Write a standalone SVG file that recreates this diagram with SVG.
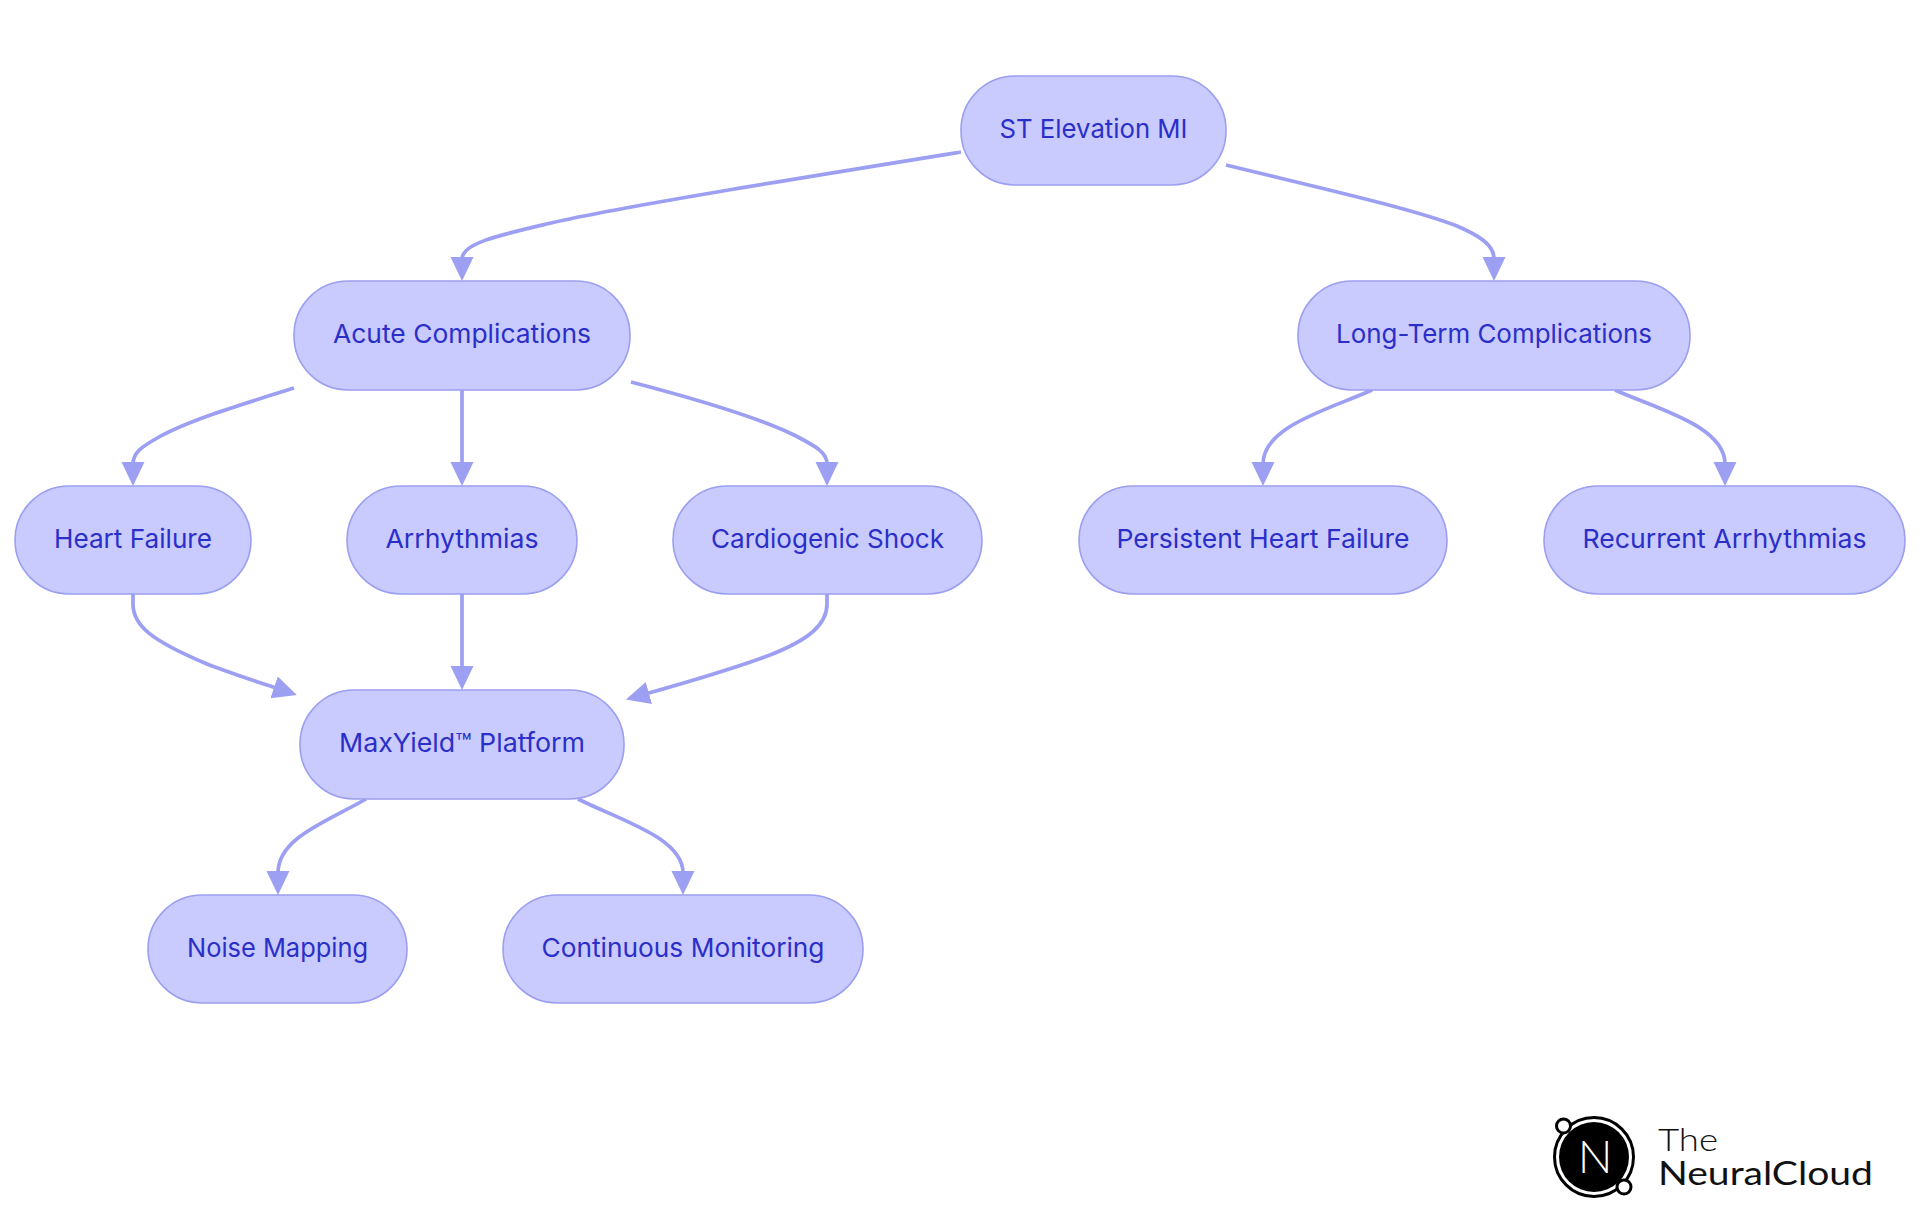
<svg xmlns="http://www.w3.org/2000/svg" width="1920" height="1215" viewBox="0 0 1920 1215">
<defs>
<style>
.n rect{fill:#c9cafd;stroke:#9c9ff0;stroke-width:1.6}
.n text{font-family:"Inter","Noto Sans",sans-serif;font-size:26px;fill:#2b2fc9;text-anchor:middle}
#edges path{fill:none;stroke:#9c9ff2;stroke-width:3.7;marker-end:url(#a)}
</style>
<marker id="a" markerUnits="userSpaceOnUse" markerWidth="26" markerHeight="24" refX="2" refY="12" orient="auto"><path d="M0,0.5L24,12L0,23.5Z" fill="#9c9ff2"/></marker>
</defs>
<rect width="1920" height="1215" fill="#fff"/>
<g id="edges">
<path d="M961,152C800,178 620,207 551,223C500,235 462,243 462,259"/>
<path d="M1226,165C1320,188 1410,208 1457,226C1480,236 1494,245 1494,259"/>
<path d="M294,388C240,405 190,420 159,437C143,446 133,452 133,464"/>
<path d="M462,390V464"/>
<path d="M631,382C700,400 760,418 796,436C815,446 827,452 827,464"/>
<path d="M1372,390C1330,409 1263,426 1263,464"/>
<path d="M1615,390C1657,409 1725,426 1725,464"/>
<path d="M133,594V604C133,625 150,640 207,664C230,673 255,681 276,688"/>
<path d="M462,594V668"/>
<path d="M827,594V604C827,625 808,640 770,655C730,670 695,680 647,693.500"/>
<path d="M366,799C326,822 278,838 278,873"/>
<path d="M578,799C622,821 683,838 683,873"/>
</g>
<g id="n1" class="n"><rect x="961" y="76" width="265" height="109" rx="54"/><text x="1093.500" y="138" textLength="188" lengthAdjust="spacingAndGlyphs">ST Elevation MI</text></g>
<g id="n2" class="n"><rect x="294" y="281" width="336" height="109" rx="54"/><text x="462" y="343" textLength="258" lengthAdjust="spacingAndGlyphs">Acute Complications</text></g>
<g id="n3" class="n"><rect x="1298" y="281" width="392" height="109" rx="54"/><text x="1494" y="343" textLength="316" lengthAdjust="spacingAndGlyphs">Long-Term Complications</text></g>
<g id="n4" class="n"><rect x="15" y="486" width="236" height="108" rx="54"/><text x="133" y="548" textLength="158" lengthAdjust="spacingAndGlyphs">Heart Failure</text></g>
<g id="n5" class="n"><rect x="347" y="486" width="230" height="108" rx="54"/><text x="462" y="548" textLength="153" lengthAdjust="spacingAndGlyphs">Arrhythmias</text></g>
<g id="n6" class="n"><rect x="673" y="486" width="309" height="108" rx="54"/><text x="827.500" y="548" textLength="233" lengthAdjust="spacingAndGlyphs">Cardiogenic Shock</text></g>
<g id="n7" class="n"><rect x="1079" y="486" width="368" height="108" rx="54"/><text x="1263" y="548" textLength="293" lengthAdjust="spacingAndGlyphs">Persistent Heart Failure</text></g>
<g id="n8" class="n"><rect x="1544" y="486" width="361" height="108" rx="54"/><text x="1724.500" y="548" textLength="284" lengthAdjust="spacingAndGlyphs">Recurrent Arrhythmias</text></g>
<g id="n9" class="n"><rect x="300" y="690" width="324" height="109" rx="54"/><text x="462" y="752" textLength="246" lengthAdjust="spacingAndGlyphs">MaxYield™ Platform</text></g>
<g id="n10" class="n"><rect x="148" y="895" width="259" height="108" rx="54"/><text x="277.500" y="957" textLength="181" lengthAdjust="spacingAndGlyphs">Noise Mapping</text></g>
<g id="n11" class="n"><rect x="503" y="895" width="360" height="108" rx="54"/><text x="683" y="957" textLength="283" lengthAdjust="spacingAndGlyphs">Continuous Monitoring</text></g>
<g id="logo">
<circle cx="1594" cy="1157" r="39.500" fill="#fff" stroke="#000" stroke-width="3"/>
<circle cx="1594" cy="1157" r="35" fill="#000"/>
<circle cx="1563.500" cy="1126" r="7" fill="#fff" stroke="#000" stroke-width="3"/>
<circle cx="1624" cy="1187" r="7" fill="#fff" stroke="#000" stroke-width="3"/>
<text x="1595" y="1173" font-family="Lato,sans-serif" font-weight="300" font-size="46" fill="#fff" text-anchor="middle">N</text>
<text x="1658" y="1151" font-family="Lato,sans-serif" font-weight="300" font-size="32" fill="#111" textLength="60" lengthAdjust="spacingAndGlyphs">The</text>
<text x="1658" y="1185" font-family="Lato,sans-serif" font-weight="400" font-size="33" fill="#111" textLength="215" lengthAdjust="spacingAndGlyphs">NeuralCloud</text>
</g>
</svg>
